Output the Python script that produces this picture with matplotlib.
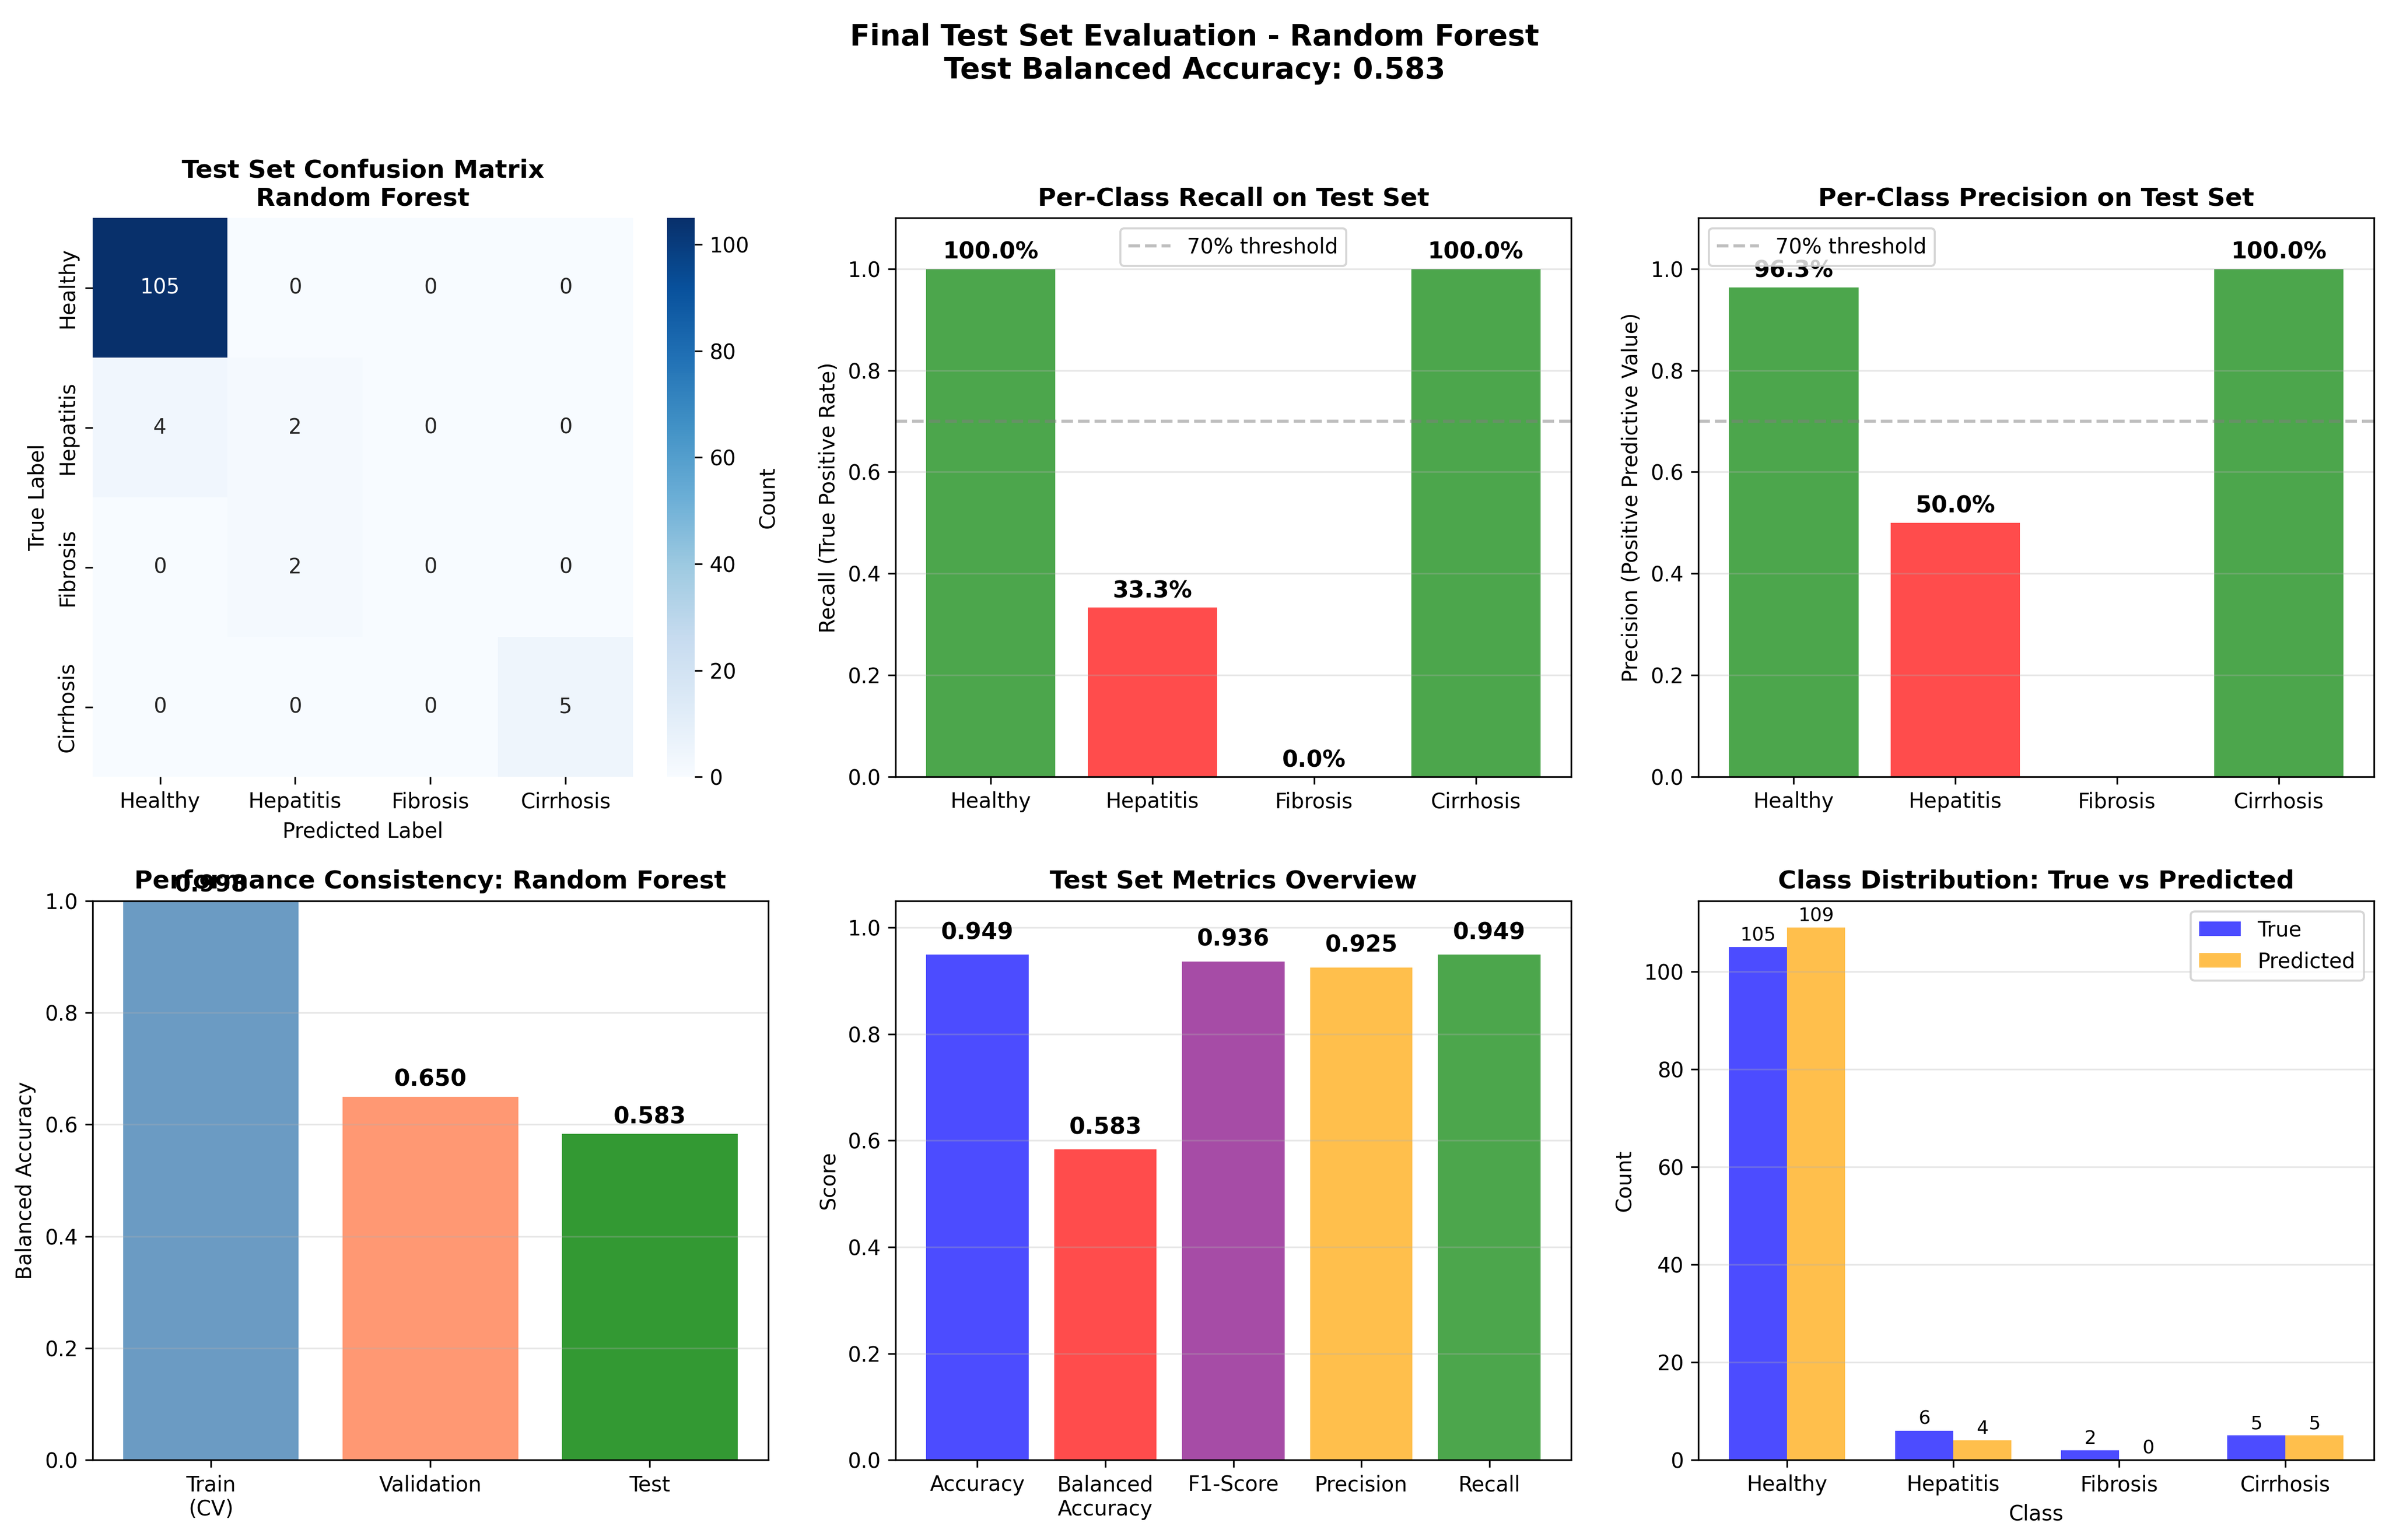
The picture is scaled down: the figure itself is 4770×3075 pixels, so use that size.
import matplotlib
matplotlib.use("Agg")

import matplotlib.pyplot as plt
import numpy as np
import seaborn as sns

classes = ["Healthy", "Hepatitis", "Fibrosis", "Cirrhosis"]

conf_matrix = np.array([
    [105, 0, 0, 0],
    [4, 2, 0, 0],
    [0, 2, 0, 0],
    [0, 0, 0, 5],
])

recall_per_class = [1.0, 0.333, 0.0, 1.0]
precision_per_class = [0.963, 0.5, np.nan, 1.0]

split_names = ["Train\n(CV)", "Validation", "Test"]
split_bal_acc = [0.998, 0.650, 0.583]

metric_names = ["Accuracy", "Balanced\nAccuracy", "F1-Score", "Precision", "Recall"]
metric_values = [0.949, 0.583, 0.936, 0.925, 0.949]

true_counts = [105, 6, 2, 5]
pred_counts = [109, 4, 0, 5]

test_bal_acc = 0.583


def per_class_panel(ax, values, title, ylabel, legend_loc):
    vals = np.nan_to_num(np.asarray(values, dtype=float))
    colors = ["green" if v >= 0.7 else "red" for v in vals]
    x = np.arange(len(classes))
    ax.bar(x, vals, color=colors, alpha=0.7)
    ax.axhline(0.7, color="gray", linestyle="--", alpha=0.5, label="70% threshold")
    for i, v in enumerate(values):
        if np.isnan(v):
            continue
        ax.text(i, v + 0.01, f"{v:.1%}", ha="center", va="bottom",
                fontweight="bold", fontsize=11)
    ax.set_xticks(x)
    ax.set_xticklabels(classes)
    ax.set_ylim(0, 1.1)
    ax.set_ylabel(ylabel)
    ax.set_title(title, fontweight="bold", fontsize=12)
    ax.legend(loc=legend_loc)
    ax.grid(axis="y", alpha=0.3)


fig, axes = plt.subplots(2, 3, figsize=(15.9, 10.25), dpi=300)
fig.subplots_adjust(left=0.0387, right=0.9938, top=0.8585, bottom=0.052,
                    wspace=0.188, hspace=0.222)

# confusion matrix
ax = axes[0, 0]
sns.heatmap(conf_matrix, annot=True, fmt="d", cmap="Blues", ax=ax,
            xticklabels=classes, yticklabels=classes,
            cbar_kws={"label": "Count"})
ax.set_title("Test Set Confusion Matrix\nRandom Forest", fontweight="bold", fontsize=12)
ax.set_xlabel("Predicted Label")
ax.set_ylabel("True Label")

per_class_panel(axes[0, 1], recall_per_class, "Per-Class Recall on Test Set",
                "Recall (True Positive Rate)", "upper center")
per_class_panel(axes[0, 2], precision_per_class, "Per-Class Precision on Test Set",
                "Precision (Positive Predictive Value)", "upper left")

# consistency across splits
ax = axes[1, 0]
x = np.arange(len(split_names))
ax.bar(x, split_bal_acc, color=["steelblue", "coral", "green"], alpha=0.8)
for i, v in enumerate(split_bal_acc):
    ax.text(i, v + 0.01, f"{v:.3f}", ha="center", va="bottom",
            fontweight="bold", fontsize=11)
ax.set_xticks(x)
ax.set_xticklabels(split_names)
ax.set_ylim(0, 1)
ax.set_ylabel("Balanced Accuracy")
ax.set_title("Performance Consistency: Random Forest", fontweight="bold", fontsize=12)
ax.grid(axis="y", alpha=0.3)

# metrics overview
ax = axes[1, 1]
x = np.arange(len(metric_names))
ax.bar(x, metric_values, color=["blue", "red", "purple", "orange", "green"], alpha=0.7)
for i, v in enumerate(metric_values):
    ax.text(i, v + 0.02, f"{v:.3f}", ha="center", va="bottom",
            fontweight="bold", fontsize=11)
ax.set_xticks(x)
ax.set_xticklabels(metric_names)
ax.set_ylim(0, 1.05)
ax.set_ylabel("Score")
ax.set_title("Test Set Metrics Overview", fontweight="bold", fontsize=12)
ax.grid(axis="y", alpha=0.3)

# class distribution
ax = axes[1, 2]
x = np.arange(len(classes))
w = 0.35
b1 = ax.bar(x - w / 2, true_counts, w, label="True", color="blue", alpha=0.7)
b2 = ax.bar(x + w / 2, pred_counts, w, label="Predicted", color="orange", alpha=0.7)
for bars in (b1, b2):
    for b in bars:
        h = b.get_height()
        ax.text(b.get_x() + b.get_width() / 2, h + 0.5, f"{int(h)}",
                ha="center", va="bottom", fontsize=9)
ax.set_xticks(x)
ax.set_xticklabels(classes)
ax.set_xlabel("Class")
ax.set_ylabel("Count")
ax.set_title("Class Distribution: True vs Predicted", fontweight="bold", fontsize=12)
ax.legend(loc="upper right")
ax.grid(axis="y", alpha=0.3)

fig.suptitle(f"Final Test Set Evaluation - Random Forest\nTest Balanced Accuracy: {test_bal_acc:.3f}",
             fontsize=14, fontweight="bold", y=0.985)

fig.savefig("out.png", dpi=300)
